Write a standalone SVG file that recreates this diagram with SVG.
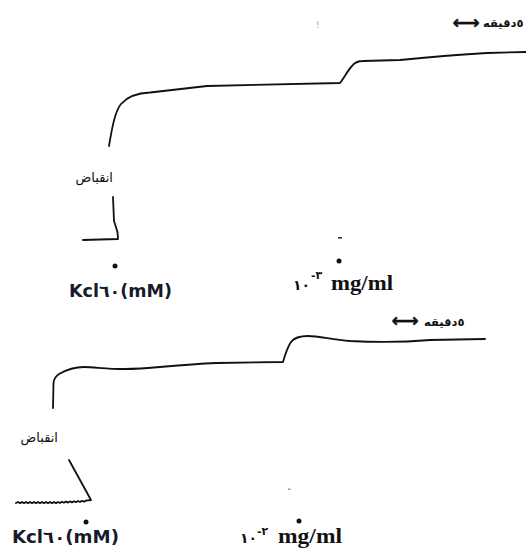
<svg xmlns="http://www.w3.org/2000/svg" width="526" height="548" viewBox="0 0 526 548">
<style>
.trace{fill:none;stroke:#111;stroke-width:1.8;stroke-linejoin:round;stroke-linecap:round}
.ar{font-family:"DejaVu Sans",sans-serif;font-size:13px;fill:#111}
.min{font-family:"DejaVu Sans",sans-serif;font-size:11.5px;font-weight:bold;fill:#111}
.arrow{font-family:"DejaVu Sans",sans-serif;font-size:19px;font-weight:bold;fill:#111;stroke:#111;stroke-width:0.35}
.kcl{font-family:"DejaVu Sans",sans-serif;font-size:17px;font-weight:bold;fill:#161b2c}
.conc{font-family:"Liberation Serif","DejaVu Serif",serif;font-size:21px;font-weight:bold;fill:#111}
.num{font-family:"DejaVu Sans",sans-serif;font-size:14px;font-weight:bold;fill:#111}
.sup{font-family:"DejaVu Sans",sans-serif;font-size:11px;font-weight:bold;fill:#111}
.dot{fill:#111}
</style>
<rect width="526" height="548" fill="#fff"/>
<g id="connectors">
  <!-- top recording -->
  <path class="trace" d="M83,240 L100,239.5 L118,239 L117.5,232 L114,221 L113,197"/>
  <path class="trace" d="M109,146 C112,128 115,111 121,104 C128,96 138,93 150,92.5 L207,86 L340,83 C344,78 348,70 352,66 C355,62 358,61 363,61 L400,60 C420,58 450,55 487,53 L526,52"/>
  <!-- bottom recording -->
  <path class="trace" d="M16,503 l2,-1 l2,1.2 l2,-1.2 l2,1.2 l2,-1.2 l2,1.2 l2,-1.2 l2,1.2 l2,-1.2 l2,1.2 l2,-1.2 l2,1.2 l2,-1.2 l2,1.2 l2,-1.2 l2,1.2 l2,-1.2 l2,1.2 l2,-1.2 l2,1.2 l2,-1.2 l2,1 l2,-1.2 l2,1 l2,-1.2 l2,1 l2,-1.2 l2,1 l2,-1.2 l2,1 l2,-1.2 l2,1 l2,-1.2 l2,1 l2,-1.2 L91,500 L69,460"/>
  <path class="trace" d="M53,408 L53.5,383 C54,378 56,376 59,374 C66,370 74,367 84,367 C95,367 105,369 125,369 C150,369 170,365 217,363 L283,362 C285,355 287,348 291,342 C294,338 300,336 308,336 C318,336 330,339 350,341 C370,342 395,343 430,340 L485,339"/>
</g>
<g id="scale-top">
  <text class="arrow" x="466" y="29" text-anchor="middle">⟷</text>
  <text class="min" x="483" y="27">٥دقيقه</text>
</g>
<g id="scale-bottom">
  <text class="arrow" x="405" y="327" text-anchor="middle">⟷</text>
  <text class="min" x="424" y="326">٥دقيقه</text>
</g>
<g id="contraction-top">
  <text class="ar" x="113" y="182" text-anchor="end">انقباض</text>
</g>
<g id="contraction-bottom">
  <text class="ar" x="58" y="442" text-anchor="end">انقباض</text>
</g>
<g id="kcl-top">
  <circle class="dot" cx="115" cy="266" r="2.5"/>
  <text class="kcl" x="69" y="297" textLength="103" lengthAdjust="spacingAndGlyphs">Kcl٦٠(mM)</text>
</g>
<g id="drug-top">
  <rect x="338" y="237" width="4" height="1.6" fill="#333"/>
  <circle class="dot" cx="339" cy="261" r="2.5"/>
  <text class="num" x="293" y="290">١٠</text>
  <text class="sup" x="311" y="279">-٣</text>
  <text class="conc" x="331" y="290" textLength="62" lengthAdjust="spacingAndGlyphs">mg/ml</text>
</g>
<g id="kcl-bottom">
  <circle class="dot" cx="86" cy="522" r="2.5"/>
  <text class="kcl" x="12" y="543" textLength="107" lengthAdjust="spacingAndGlyphs">Kcl٦٠(mM)</text>
</g>
<g id="drug-bottom">
  <rect x="288" y="488.5" width="2.5" height="1.5" fill="#999"/>
  <circle class="dot" cx="299" cy="521" r="2.5"/>
  <text class="num" x="240" y="543">١٠</text>
  <text class="sup" x="257" y="535">-٢</text>
  <text class="conc" x="278" y="543" textLength="64" lengthAdjust="spacingAndGlyphs">mg/ml</text>
</g>
<text x="316" y="28" font-family="DejaVu Sans,sans-serif" font-size="9" fill="#999">!</text>
</svg>
